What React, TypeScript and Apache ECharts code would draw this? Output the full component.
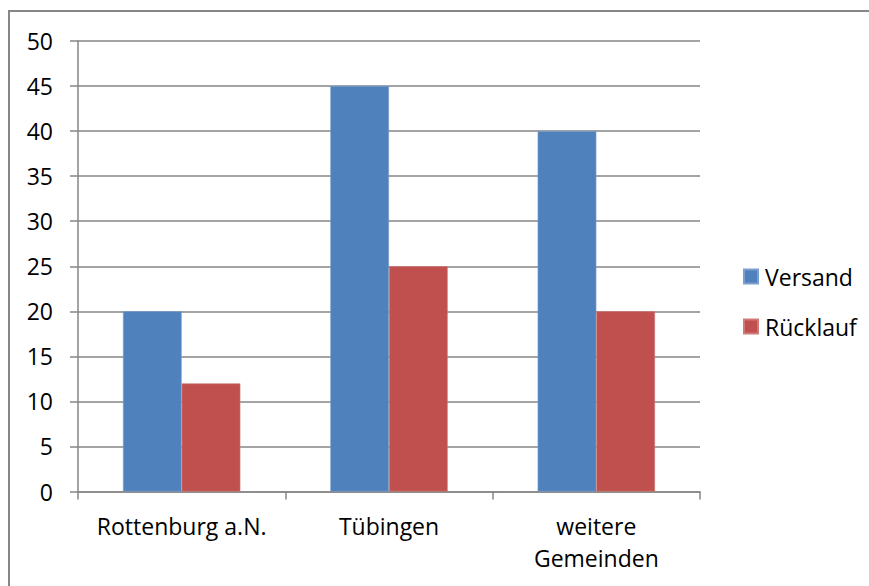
import React, { useEffect, useRef } from "react";
import * as echarts from "echarts";

const categories = ["Rottenburg a.N.", "Tübingen", "weitere\nGemeinden"];
const versand = [20, 45, 40];
const ruecklauf = [12, 25, 20];
const seriesNames = ["Versand", "Rücklauf"];

const FONT = "'Open Sans', sans-serif";
const GRAY = "#868686";
const FS = 23;

export default function App() {
  const ref = useRef<HTMLDivElement>(null);
  useEffect(() => {
    if (!ref.current) return;
    const chart = echarts.init(ref.current, null, { renderer: "svg" });
    chart.setOption({
      animation: false,
      backgroundColor: "#ffffff",
      textStyle: { fontFamily: FONT },
      graphic: [
        {
          type: "rect",
          shape: { x: 9, y: 11, width: 900, height: 700 },
          style: { fill: "none", stroke: GRAY, lineWidth: 2 },
          silent: true,
        },
      ],
      grid: { left: 78, right: 169, top: 41, bottom: 94.5, containLabel: false },
      legend: {
        orient: "vertical",
        left: 743,
        top: 265,
        padding: 0,
        itemWidth: 14,
        itemHeight: 14,
        itemGap: 27,
        icon: "rect",
        textStyle: { fontFamily: FONT, fontSize: FS, color: "#000", lineHeight: 22, padding: [0, 0, 0, 2] },
        data: seriesNames,
      },
      xAxis: {
        type: "category",
        data: categories,
        axisLine: { lineStyle: { color: GRAY, width: 1.5 } },
        axisTick: { show: true, length: 8, alignWithLabel: false, lineStyle: { color: GRAY, width: 1.5 } },
        axisLabel: { color: "#000", fontFamily: FONT, fontSize: FS, lineHeight: 31.6, margin: 19, interval: 0 },
      },
      yAxis: {
        type: "value",
        min: 0,
        max: 50,
        interval: 5,
        axisLine: { show: true, lineStyle: { color: GRAY, width: 1.5 } },
        axisTick: { show: true, length: 8, lineStyle: { color: GRAY, width: 1.5 } },
        axisLabel: { color: "#000", fontFamily: FONT, fontSize: FS, margin: 25 },
        splitLine: { show: true, lineStyle: { color: GRAY, width: 1.5 } },
      },
      series: [
        {
          name: seriesNames[0],
          type: "bar",
          data: versand,
          barGap: "0%",
          barCategoryGap: "43.4%",
          itemStyle: { color: "#4F81BD", borderColor: "#7A9FD0", borderWidth: 0.6 },
        },
        {
          name: seriesNames[1],
          type: "bar",
          data: ruecklauf,
          barGap: "0%",
          barCategoryGap: "43.4%",
          itemStyle: { color: "#C0504D", borderColor: "#D07A78", borderWidth: 0.6 },
        },
      ],
    });
    return () => chart.dispose();
  }, []);
  return (
    <div
      ref={ref}
      style={{ position: "absolute", left: 0, top: 0, width: 869, height: 586 }}
    />
  );
}
